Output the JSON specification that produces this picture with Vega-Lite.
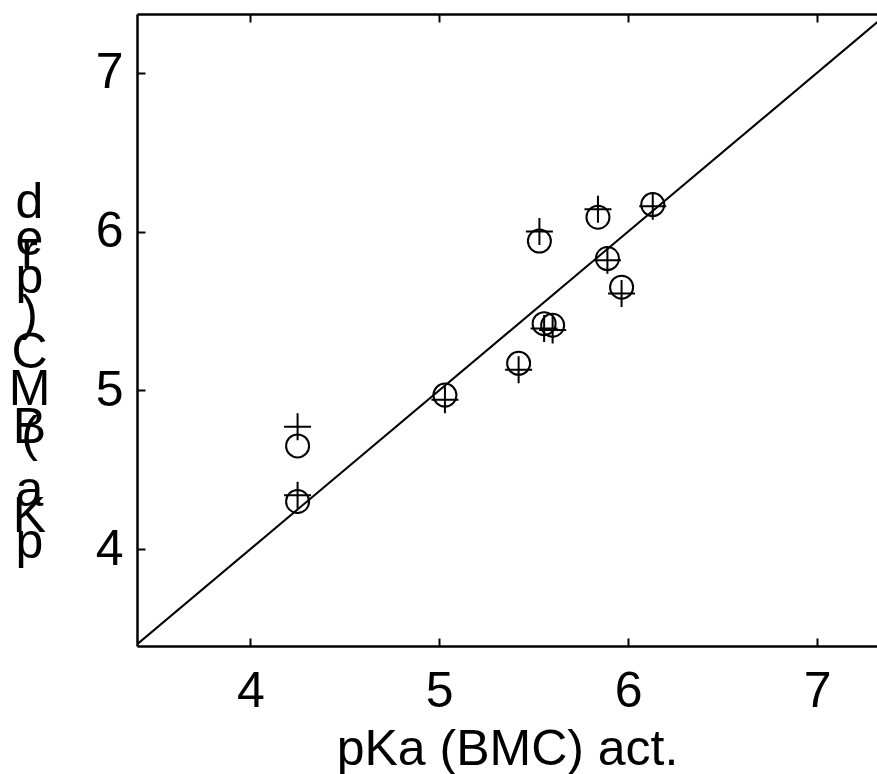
{
  "$schema": "https://vega.github.io/schema/vega-lite/v6.json",
  "autosize": {"type": "none"},
  "padding": {"left": 137, "top": 14, "right": 0, "bottom": 128},
  "width": 740,
  "height": 632,
  "background": "white",
  "config": {
    "view": {"stroke": null},
    "font": "Liberation Sans",
    "axis": {
      "domainColor": "black",
      "domainWidth": 2.5,
      "tickColor": "black",
      "tickWidth": 2,
      "tickSize": -8,
      "grid": false,
      "labelColor": "black",
      "labelFont": "Liberation Sans",
      "labelFontSize": 50,
      "titleColor": "black",
      "titleFont": "Liberation Sans",
      "titleFontSize": 50,
      "titleFontWeight": "normal"
    }
  },
  "datasets": {
    "points": [
      {"act": 4.25, "circ": 4.65, "plus": 4.77},
      {"act": 4.25, "circ": 4.30, "plus": 4.34},
      {"act": 5.03, "circ": 4.97, "plus": 4.94},
      {"act": 5.42, "circ": 5.17, "plus": 5.13},
      {"act": 5.53, "circ": 5.94, "plus": 6.00},
      {"act": 5.555, "circ": 5.42, "plus": 5.39},
      {"act": 5.60, "circ": 5.41, "plus": 5.38},
      {"act": 5.84, "circ": 6.09, "plus": 6.14},
      {"act": 5.89, "circ": 5.83, "plus": 5.82},
      {"act": 5.965, "circ": 5.65, "plus": 5.61},
      {"act": 6.13, "circ": 6.17, "plus": 6.16}
    ],
    "diag": [
      {"act": 3.3, "pred": 3.3},
      {"act": 7.5, "pred": 7.5}
    ]
  },
  "resolve": {"axis": {"x": "independent", "y": "independent"}},
  "layer": [
    {
      "data": {"name": "diag"},
      "mark": {"type": "line", "color": "black", "strokeWidth": 2, "clip": true},
      "encoding": {
        "x": {"field": "act", "type": "quantitative",
              "scale": {"domain": [3.4, 7.317], "nice": false, "zero": false},
              "axis": {"orient": "top", "values": [4, 5, 6, 7], "labels": false, "title": null}},
        "y": {"field": "pred", "type": "quantitative",
              "scale": {"domain": [3.39, 7.37], "nice": false, "zero": false},
              "axis": {"orient": "left", "labels": false, "ticks": false, "domain": false,
                       "title": ["r", "("],
                       "titleAngle": 0, "titleAlign": "center", "titleBaseline": "top",
                       "titleX": -108, "titleY": 213, "titleLineHeight": 183}}
      }
    },
    {
      "data": {"name": "points"},
      "mark": {"type": "point", "shape": "circle", "filled": false, "color": "black", "strokeWidth": 2, "size": 529, "opacity": 1},
      "encoding": {
        "x": {"field": "act", "type": "quantitative",
              "scale": {"domain": [3.4, 7.317], "nice": false, "zero": false},
              "axis": {"orient": "bottom", "values": [4, 5, 6, 7], "labelPadding": 28, "title": "pKa (BMC) act.", "titlePadding": 8}},
        "y": {"field": "circ", "type": "quantitative",
              "scale": {"domain": [3.39, 7.37], "nice": false, "zero": false},
              "axis": {"orient": "left", "values": [4, 5, 6, 7], "labelPadding": 22,
                       "title": ["d", "e", "p", ")", "C", "M", "B"],
                       "titleAngle": 0, "titleAlign": "center", "titleBaseline": "top",
                       "titleX": -108, "titleY": 163, "titleLineHeight": 37.5}}
      }
    },
    {
      "data": {"name": "points"},
      "mark": {"type": "point", "shape": "M-1,0H1M0,-1V1", "filled": false, "color": "black", "strokeWidth": 2, "size": 729, "opacity": 1},
      "encoding": {
        "x": {"field": "act", "type": "quantitative",
              "scale": {"domain": [3.4, 7.317], "nice": false, "zero": false}, "axis": null},
        "y": {"field": "plus", "type": "quantitative",
              "scale": {"domain": [3.39, 7.37], "nice": false, "zero": false},
              "axis": {"orient": "left", "labels": false, "ticks": false, "domain": false,
                       "title": ["a", "K", "p"],
                       "titleAngle": 0, "titleAlign": "center", "titleBaseline": "top",
                       "titleX": -108, "titleY": 451, "titleLineHeight": 26}}
      }
    }
  ]
}
